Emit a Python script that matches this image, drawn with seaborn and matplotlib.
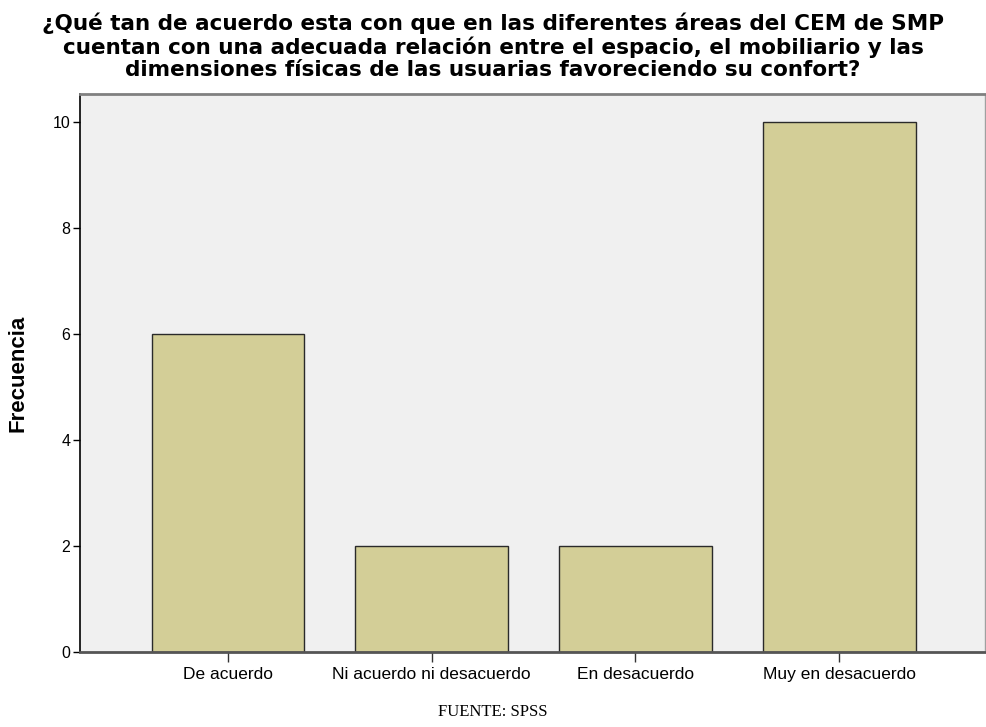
import matplotlib
matplotlib.use("Agg")
import matplotlib.pyplot as plt
import seaborn as sns
import pandas as pd

categories = ["De acuerdo", "Ni acuerdo ni desacuerdo", "En desacuerdo", "Muy en desacuerdo"]
frecuencia = [6, 2, 2, 10]
yticks = [0, 2, 4, 6, 8, 10]

title = ("¿Qué tan de acuerdo esta con que en las diferentes áreas del CEM de SMP\n"
         "cuentan con una adecuada relación entre el espacio, el mobiliario y las\n"
         "dimensiones físicas de las usuarias favoreciendo su confort?")

sns.set_style("white")
plt.rcParams["font.family"] = ["Liberation Sans", "DejaVu Sans"]
plt.rcParams["text.color"] = "#000000"
plt.rcParams["axes.labelcolor"] = "#000000"
plt.rcParams["xtick.color"] = "#000000"
plt.rcParams["ytick.color"] = "#000000"

df = pd.DataFrame({"cat": categories, "freq": frecuencia})

fig = plt.figure(figsize=(9.86, 7.27), dpi=100)
L, R, T, B = 80, 985, 94, 652
ax = fig.add_axes([L/986, 1-B/727, (R-L)/986, (B-T)/727])
ax.set_facecolor("#F0F0F0")

sns.barplot(data=df, x="cat", y="freq", order=categories, color="#D3CE97",
            saturation=1, width=0.75, edgecolor="#2a2a2a", linewidth=1.0, ax=ax)

ax.set_xlim(-0.727, 3.716)
ax.set_ylim(0, 10.53)
ax.set_yticks(yticks)
ax.set_yticklabels([str(v) for v in yticks], fontsize=11.5)
ax.tick_params(axis="y", direction="out", length=5, width=1, colors="#000000", pad=2, left=True)
ax.tick_params(axis="x", direction="out", length=7, width=1, pad=4, bottom=True,
               labelsize=12.5, colors="#000000")
ax.tick_params(axis="x", color="#333333")
ax.set_xlabel("")
ax.set_ylabel("Frecuencia", fontsize=16, fontweight="bold", labelpad=17, color="#000000")

for side, col, lw in [("left", "#000000", 1.2), ("bottom", "#555555", 2.0),
                      ("top", "#808080", 2.0), ("right", "#a0a0a0", 1.0)]:
    ax.spines[side].set_visible(True)
    ax.spines[side].set_color(col)
    ax.spines[side].set_linewidth(lw)

fig.text(0.5, 1-13/727, title, ha="center", va="top", fontsize=15.5, color="#000000",
         fontweight="bold", linespacing=1.13, family=["DejaVu Sans"])
fig.text(0.5, 1-712/727, "FUENTE: SPSS", ha="center", va="center", fontsize=12,
         color="#000000", family=["Liberation Serif", "DejaVu Serif"])

fig.savefig("out.png", dpi=100)
